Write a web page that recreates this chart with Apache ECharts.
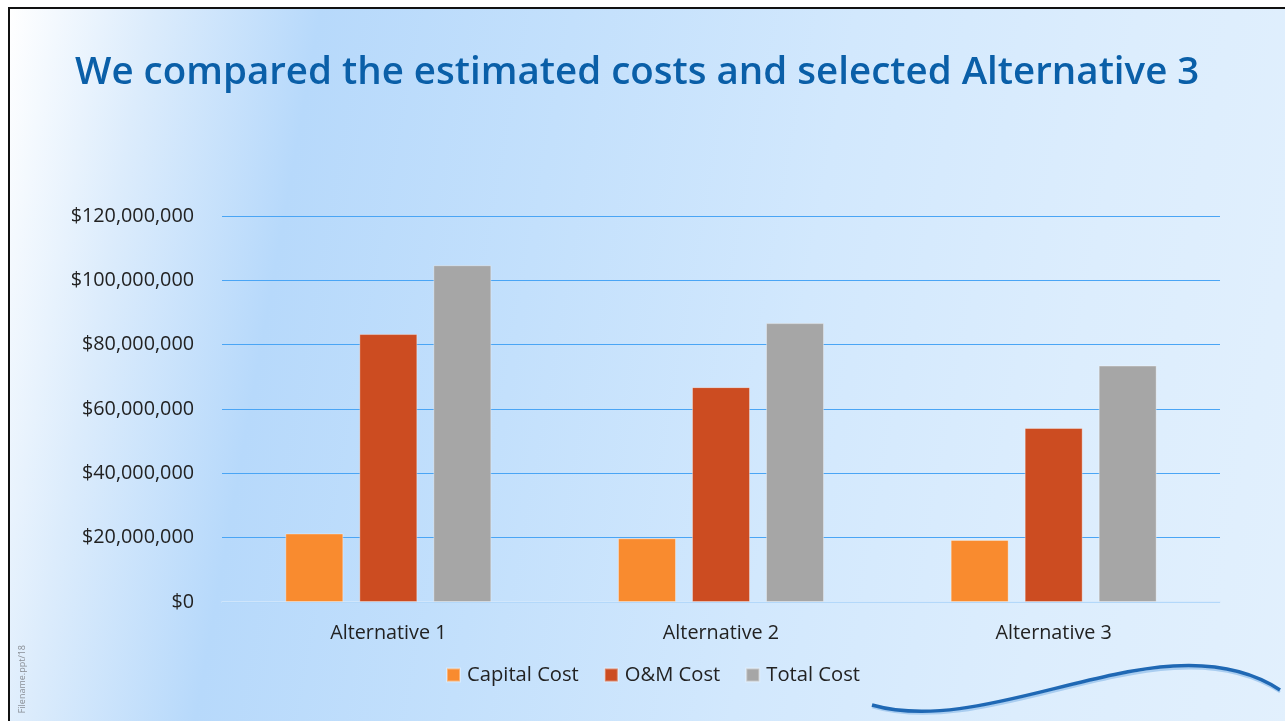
<!DOCTYPE html>
<html><head><meta charset="utf-8">
<script src="https://cdn.jsdelivr.net/npm/echarts@6/dist/echarts.min.js"></script>
<style>
html,body{margin:0;padding:0;width:1285px;height:721px;overflow:hidden;background:#fff;}
#bg{position:absolute;left:8px;top:7px;width:1285px;height:721px;border-left:2px solid #111;border-top:2px solid #111;
background:linear-gradient(100deg,#ffffff 0%,#dcecfc 10%,#b7d9fb 22%,#c3e0fc 40%,#d2e8fd 60%,#dcedfd 80%,#e2f0fd 100%);}
#c{position:absolute;left:0;top:0;width:1285px;height:721px;}
</style></head><body>
<div id="bg"></div>
<div id="c"></div>
<script>
const categories = ['Alternative 1','Alternative 2','Alternative 3'];
const capitalCost = [21300000, 19800000, 19300000];
const omCost = [83300000, 66800000, 54100000];
const totalCost = [104700000, 86700000, 73500000];
const seriesNames = ['Capital Cost','O&M Cost','Total Cost'];

const chart = echarts.init(document.getElementById('c'), null, {renderer:'canvas'});
const fmt = v => '$' + v.toLocaleString('en-US');
const font = '"Open Sans","Noto Sans",sans-serif';
chart.setOption({
  backgroundColor:'transparent',
  animation:false,
  title:{text:'We compared the estimated costs and selected Alternative 3',left:70,top:49,
    textStyle:{color:'#0a5fa8',fontSize:38.5,fontWeight:600,fontFamily:font}},
  legend:{bottom:31,left:441,itemWidth:13,itemHeight:13,itemGap:25,icon:'rect',
    textStyle:{fontSize:20.2,color:'#222',fontFamily:font,padding:[0,0,0,2]},data:seriesNames},
  grid:{left:222,right:65,top:216,bottom:119,containLabel:false},
  xAxis:{type:'category',data:categories,
    axisLine:{lineStyle:{color:'#d6e9fb',width:1.5}},axisTick:{show:false},
    axisLabel:{fontSize:19.8,color:'#222',margin:21,fontFamily:font}},
  yAxis:{type:'value',min:0,max:120000000,interval:20000000,
    axisLabel:{formatter:fmt,fontSize:19.8,color:'#222',margin:28,fontFamily:font},
    splitLine:{lineStyle:{color:'#4aa5f5',width:1}},axisLine:{show:false},axisTick:{show:false}},
  series:[
    {name:seriesNames[0],type:'bar',data:capitalCost,barWidth:58,barGap:'27.6%',itemStyle:{color:'#f98b2f',borderColor:'rgba(255,255,255,0.35)',borderWidth:1}},
    {name:seriesNames[1],type:'bar',data:omCost,barWidth:58,barGap:'27.6%',itemStyle:{color:'#cc4c21',borderColor:'rgba(255,255,255,0.35)',borderWidth:1}},
    {name:seriesNames[2],type:'bar',data:totalCost,barWidth:58,barGap:'27.6%',itemStyle:{color:'#a6a6a6',borderColor:'rgba(255,255,255,0.35)',borderWidth:1}}
  ],
  graphic:[
    {type:'text',left:18,top:645,rotation:Math.PI/2,
      style:{text:'Filename.ppt/18',fontSize:9,fill:'#8a8f96',fontFamily:font}},
    {type:'bezierCurve',shape:{x1:872,y1:707,cpx1:995,cpy1:743,cpx2:1165,cpy2:618,x2:1280,y2:692},
      style:{stroke:'#a9cdf0',lineWidth:2.5,fill:null}},
    {type:'bezierCurve',shape:{x1:872,y1:705,cpx1:995,cpy1:740,cpx2:1165,cpy2:615,x2:1280,y2:690},
      style:{stroke:'#1f68b4',lineWidth:3.5,fill:null}}
  ]
});
</script>
</body></html>
